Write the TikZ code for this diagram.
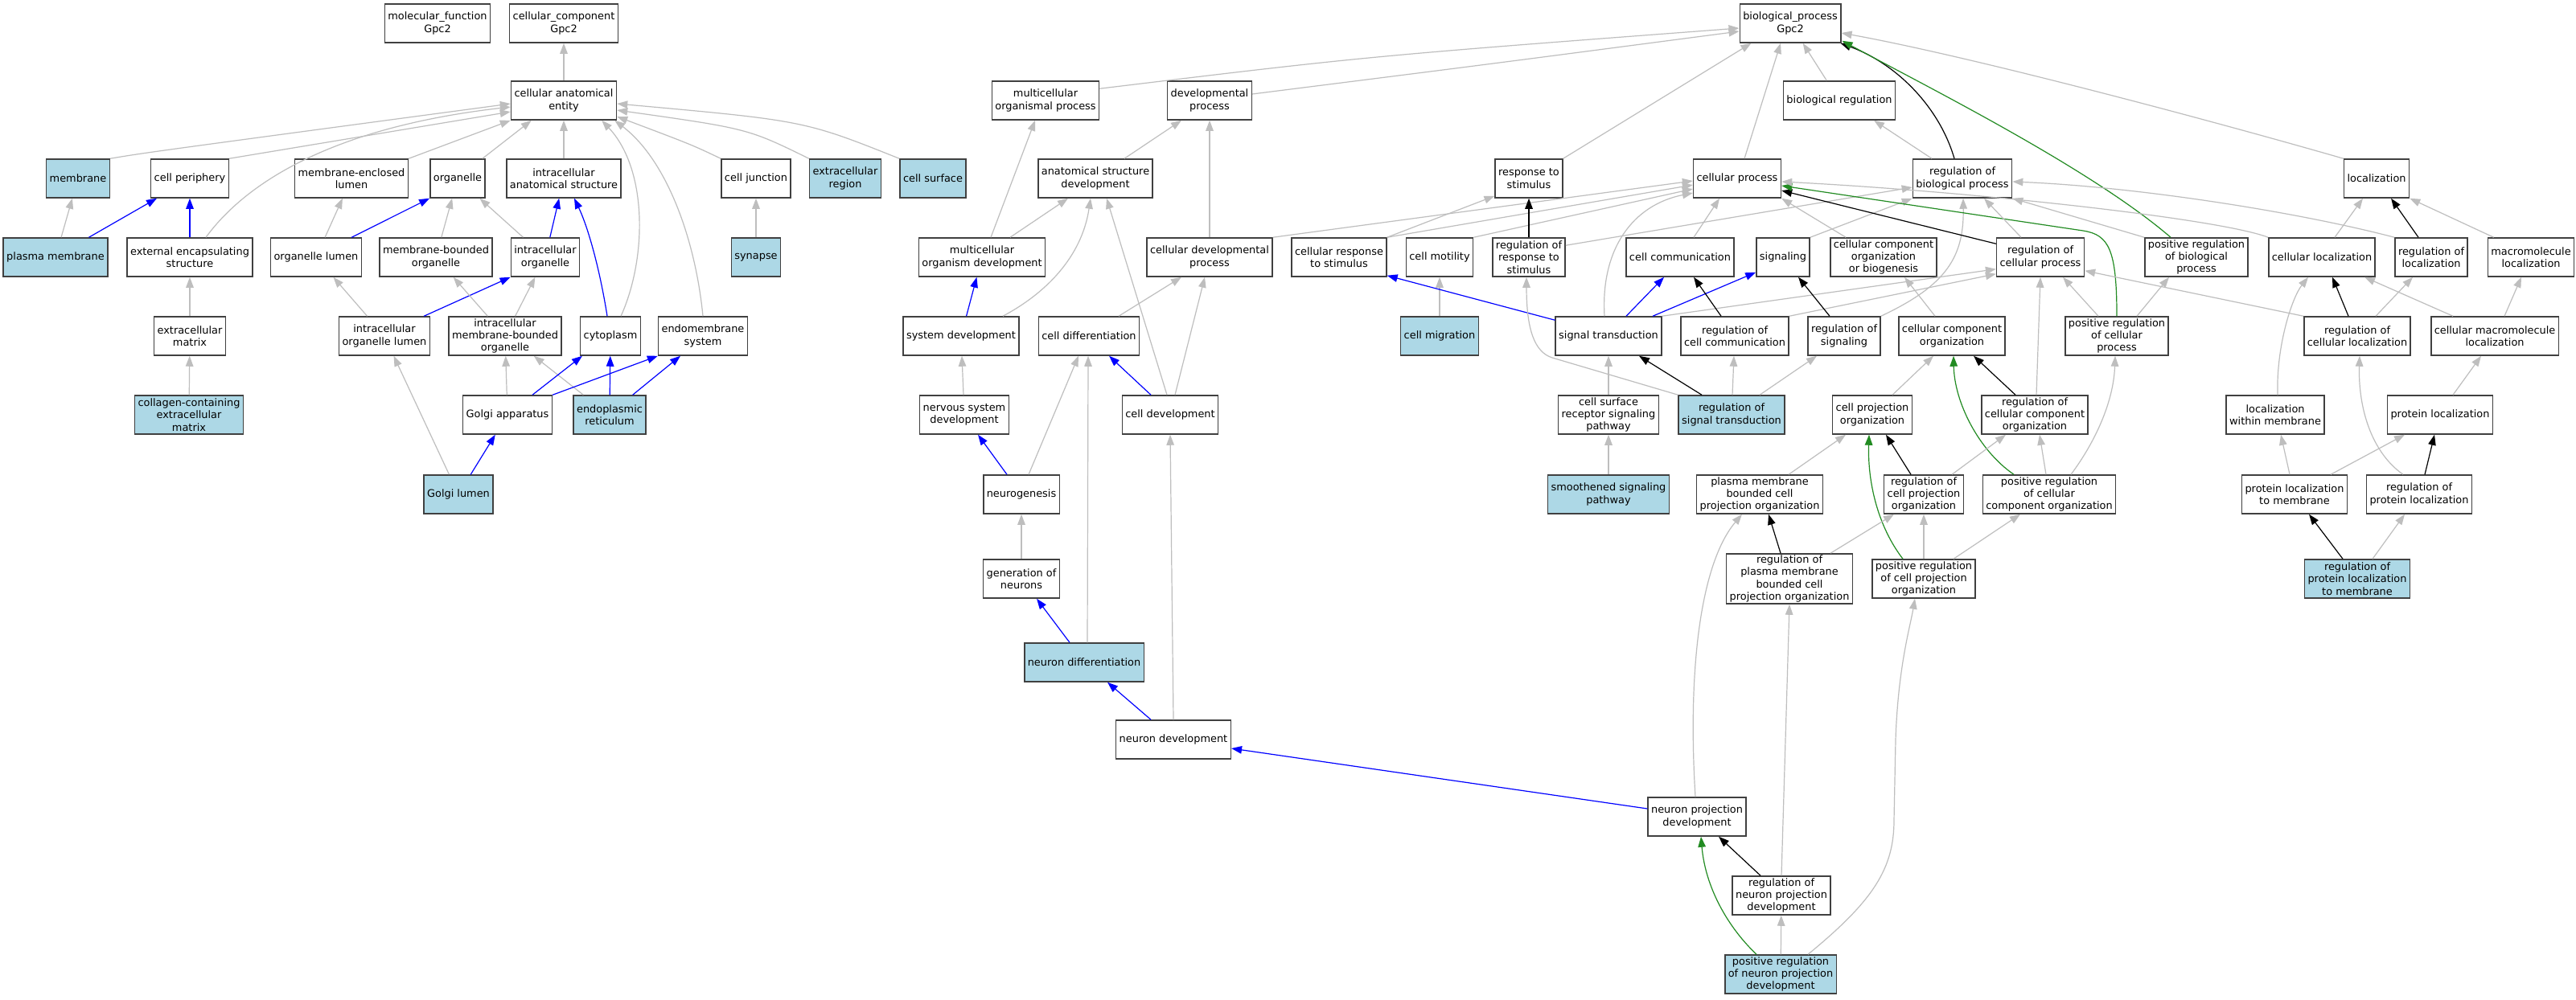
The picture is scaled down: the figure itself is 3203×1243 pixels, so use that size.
\documentclass[tikz,border=0pt]{standalone}
\usepackage{fontspec}
\setmainfont{DejaVu Sans}
\usetikzlibrary{arrows.meta}
\definecolor{lb}{HTML}{ADD8E6}
\definecolor{eg}{HTML}{BEBEBE}
\definecolor{fg}{HTML}{228B22}
\definecolor{bd}{HTML}{404040}
\tikzset{
 gobox/.style={draw=bd,line width=1.5pt,fill=white,align=center,inner xsep=4pt,inner ysep=2pt,minimum height=48pt,font=\fontsize{12.9}{15.2}\selectfont},
 hlbox/.style={gobox,fill=lb},
 edg/.style={line width=1.2pt,-{Triangle[length=13pt,width=9.5pt]}},
 gedge/.style={edg,color=eg},
 bedge/.style={edg,color=blue},
 kedge/.style={edg,color=black},
 vedge/.style={edg,color=fg}
}
\begin{document}
\begin{tikzpicture}[x=1pt,y=-1pt]
\fill[white] (0,0) rectangle (3203,1243);
\useasboundingbox (0,0) rectangle (3203,1243);
% ---------- cellular component ----------
\node[gobox] (mf) at (544,29) {molecular\_function\\Gpc2};
\node[gobox] (cc) at (701,29) {cellular\_component\\Gpc2};
\node[gobox] (cae) at (701,125) {cellular anatomical\\entity};
\node[hlbox] (membrane) at (97,222) {membrane};
\node[gobox] (cellper) at (236,222) {cell periphery};
\node[gobox] (mel) at (437,222) {membrane-enclosed\\lumen};
\node[gobox] (organelle) at (569,222) {organelle};
\node[gobox] (ias) at (701,222) {intracellular\\anatomical structure};
\node[gobox] (celljunc) at (940,222) {cell junction};
\node[hlbox] (extreg) at (1051,222) {extracellular\\region};
\node[hlbox] (cellsurf) at (1160,222) {cell surface};
\node[hlbox] (pm) at (69,320) {plasma membrane};
\node[gobox] (ees) at (236,320) {external encapsulating\\structure};
\node[gobox] (orglumen) at (393,320) {organelle lumen};
\node[gobox] (mbo) at (542,320) {membrane-bounded\\organelle};
\node[gobox] (io) at (678,320) {intracellular\\organelle};
\node[hlbox] (synapse) at (940,320) {synapse};
\node[gobox] (ecm) at (236,418) {extracellular\\matrix};
\node[gobox] (iol) at (478,418) {intracellular\\organelle lumen};
\node[gobox] (imbo) at (628,418) {intracellular\\membrane-bounded\\organelle};
\node[gobox] (cytoplasm) at (759,418) {cytoplasm};
\node[gobox] (ems) at (874,418) {endomembrane\\system};
\node[hlbox] (collagen) at (235,516) {collagen-containing\\extracellular\\matrix};
\node[gobox] (golgi) at (631,516) {Golgi apparatus};
\node[hlbox] (er) at (758,516) {endoplasmic\\reticulum};
\node[hlbox] (golgilumen) at (570,615) {Golgi lumen};
% ---------- biological process ----------
\node[gobox] (bp) at (2226,29) {biological\_process\\Gpc2};
\node[gobox] (mop) at (1300,125) {multicellular\\organismal process};
\node[gobox] (devp) at (1504,125) {developmental\\process};
\node[gobox] (bioreg) at (2287,125) {biological regulation};
\node[gobox] (asd) at (1362,222) {anatomical structure\\development};
\node[gobox] (rs) at (1901,222) {response to\\stimulus};
\node[gobox] (cp) at (2160,222) {cellular process};
\node[gobox] (rbp) at (2440,222) {regulation of\\biological process};
\node[gobox] (loc) at (2955,222) {localization};
\node[gobox] (mod) at (1221,320) {multicellular\\organism development};
\node[gobox] (cdp) at (1504,320) {cellular developmental\\process};
\node[gobox] (crs) at (1665,320) {cellular response\\to stimulus};
\node[gobox] (cmot) at (1790,320) {cell motility};
\node[gobox] (rrs) at (1901,320) {regulation of\\response to\\stimulus};
\node[gobox] (ccomm) at (2089,320) {cell communication};
\node[gobox] (signaling) at (2217,320) {signaling};
\node[gobox] (ccob) at (2342,320) {cellular component\\organization\\or biogenesis};
\node[gobox] (rcp) at (2537,320) {regulation of\\cellular process};
\node[gobox] (prbp) at (2731,320) {positive regulation\\of biological\\process};
\node[gobox] (cloc) at (2887,320) {cellular localization};
\node[gobox] (rloc) at (3023,320) {regulation of\\localization};
\node[gobox] (mloc) at (3147,320) {macromolecule\\localization};
\node[gobox] (sysdev) at (1195,418) {system development};
\node[gobox] (celldiff) at (1354,418) {cell differentiation};
\node[hlbox] (cmig) at (1790,418) {cell migration};
\node[gobox] (st) at (2000,418) {signal transduction};
\node[gobox] (rcc) at (2157,418) {regulation of\\cell communication};
\node[gobox] (rsig) at (2293,418) {regulation of\\signaling};
\node[gobox] (cco) at (2427,418) {cellular component\\organization};
\node[gobox] (prcp) at (2632,418) {positive regulation\\of cellular\\process};
\node[gobox] (rcl) at (2931,418) {regulation of\\cellular localization};
\node[gobox] (cml) at (3102,418) {cellular macromolecule\\localization};
\node[gobox] (nsd) at (1199,516) {nervous system\\development};
\node[gobox] (celldev) at (1455,516) {cell development};
\node[gobox] (csrsp) at (2000,516) {cell surface\\receptor signaling\\pathway};
\node[hlbox] (rst) at (2153,516) {regulation of\\signal transduction};
\node[gobox] (cpo) at (2328,516) {cell projection\\organization};
\node[gobox] (rcco) at (2530,516) {regulation of\\cellular component\\organization};
\node[gobox] (lwm) at (2829,516) {localization\\within membrane};
\node[gobox] (ploc) at (3034,516) {protein localization};
\node[gobox] (neurogenesis) at (1270,615) {neurogenesis};
\node[hlbox] (ssp) at (2000,615) {smoothened signaling\\pathway};
\node[gobox] (pmbcpo) at (2188,615) {plasma membrane\\bounded cell\\projection organization};
\node[gobox] (rcpo) at (2392,615) {regulation of\\cell projection\\organization};
\node[gobox] (prcco) at (2548,615) {positive regulation\\of cellular\\component organization};
\node[gobox] (plm) at (2853,615) {protein localization\\to membrane};
\node[gobox] (rpl) at (3008,615) {regulation of\\protein localization};
\node[gobox] (gon) at (1270,720) {generation of\\neurons};
\node[gobox] (rpmbcpo) at (2225,720) {regulation of\\plasma membrane\\bounded cell\\projection organization};
\node[gobox] (prcpo) at (2392,720) {positive regulation\\of cell projection\\organization};
\node[hlbox] (rplm) at (2931,720) {regulation of\\protein localization\\to membrane};
\node[hlbox] (ndiff) at (1348,824) {neuron differentiation};
\node[gobox] (ndev) at (1459,920) {neuron development};
\node[gobox] (npd) at (2110,1016) {neuron projection\\development};
\node[gobox] (rnpd) at (2215,1114) {regulation of\\neuron projection\\development};
\node[hlbox] (prnpd) at (2214,1212) {positive regulation\\of neuron projection\\development};
% ---------- CC edges ----------
\draw[gedge] (cae) -- (cc);
\draw[gedge] (membrane.north east) .. controls (180,190) .. ([yshift=-4pt]cae.west);
\draw[gedge] (cellper.north east) -- ([yshift=-14pt]cae.west);
\draw[gedge] ([xshift=20pt]ees.north) .. controls (300,235) and (400,160) .. ([yshift=-8pt]cae.west);
\draw[gedge] (mel.north east) -- (cae.south west);
\draw[gedge] ([xshift=-4pt]organelle.north east) -- ([xshift=26pt]cae.south west);
\draw[gedge] (ias) -- (cae);
\draw[gedge] ([xshift=-25pt]cytoplasm.north east) .. controls (805,320) and (805,210) .. ([xshift=-19pt]cae.south east);
\draw[gedge] (ems.north) .. controls (865,300) and (830,200) .. ([xshift=-3pt]cae.south east);
\draw[gedge] (celljunc.north west) .. controls (860,180) .. ([yshift=-20pt]cae.east);
\draw[gedge] (extreg.north west) .. controls (930,160) .. ([yshift=-12pt]cae.east);
\draw[gedge] (cellsurf.north west) .. controls (1000,150) .. ([yshift=-4pt]cae.east);
\draw[gedge] (pm) -- (membrane);
\draw[bedge] ([xshift=-24pt]pm.north east) -- ([xshift=8pt]cellper.south west);
\draw[bedge] (ees) -- (cellper);
\draw[gedge] (ecm) -- (ees);
\draw[gedge] (collagen) -- (ecm);
\draw[gedge] (orglumen) -- (mel);
\draw[bedge] ([xshift=-13pt]orglumen.north east) -- (organelle.south west);
\draw[gedge] (mbo) -- (organelle);
\draw[gedge] (io) -- (organelle);
\draw[bedge] (io) -- (ias);
\draw[bedge] ([xshift=-4pt]cytoplasm.north) .. controls (745,330) and (730,280) .. ([xshift=13pt]ias.south);
\draw[gedge] (iol) -- (orglumen);
\draw[bedge] ([xshift=-8pt]iol.north east) -- (io.south west);
\draw[gedge] (imbo) -- (mbo);
\draw[gedge] (imbo) -- (io);
\draw[gedge] (golgilumen) -- (iol);
\draw[bedge] (golgilumen) -- (golgi);
\draw[gedge] (golgi) -- (imbo);
\draw[gedge] ([xshift=13pt]er.north west) -- ([xshift=-35pt]imbo.south east);
\draw[bedge] ([xshift=31pt]golgi.north) -- ([xshift=3pt]cytoplasm.south west);
\draw[bedge] (er) -- (cytoplasm);
\draw[bedge] (golgi.north east) -- (ems.south west);
\draw[bedge] ([xshift=-17pt]er.north east) -- ([xshift=-28pt]ems.south);
\draw[gedge] (synapse) -- (celljunc);
% ---------- BP edges ----------
\draw[gedge] ([yshift=-10pt]mop.north east) .. controls (1700,70) .. ([yshift=-6pt]bp.west);
\draw[gedge] ([yshift=8pt]devp.east) .. controls (1850,80) .. ([yshift=-10pt]bp.west);
\draw[gedge] (rs.north east) -- ([xshift=15pt]bp.south west);
\draw[gedge] ([xshift=9pt]cp.north) -- ([xshift=-12pt]bp.south);
\draw[gedge] (bioreg) -- (bp);
\draw[kedge] ([xshift=-10pt]rbp.north) .. controls (2412,135) and (2360,80) .. ([xshift=-1pt]bp.south east);
\draw[vedge] ([xshift=-32pt]prbp.north) .. controls (2600,210) and (2400,110) .. ([xshift=1pt,yshift=3pt]bp.south east);
\draw[gedge] (loc.north west) .. controls (2750,150) and (2450,70) .. ([yshift=-12pt]bp.east);
\draw[gedge] ([xshift=11pt]mod.north) -- ([xshift=-13pt]mop.south);
\draw[gedge] ([xshift=36pt]asd.north) -- ([xshift=-35pt]devp.south);
\draw[gedge] (cdp) -- (devp);
\draw[gedge] ([xshift=35pt]mod.north) -- ([xshift=-34pt]asd.south);
\draw[gedge] ([xshift=52pt]sysdev.north) .. controls (1300,365) and (1345,320) .. ([xshift=-6pt]asd.south);
\draw[gedge] ([xshift=-4pt]celldev.north) -- ([xshift=14pt]asd.south);
\draw[bedge] (sysdev) -- (mod);
\draw[gedge] (nsd) -- (sysdev);
\draw[bedge] ([xshift=-18pt]neurogenesis.north) -- ([xshift=17pt]nsd.south);
\draw[gedge] ([xshift=9pt]neurogenesis.north) -- ([xshift=-13pt]celldiff.south);
\draw[gedge] ([xshift=4pt]ndiff.north) -- ([xshift=-1pt]celldiff.south);
\draw[bedge] ([xshift=-24pt]celldev.north) -- ([xshift=25pt]celldiff.south);
\draw[gedge] ([xshift=37pt]celldiff.north) -- ([xshift=-35pt]cdp.south);
\draw[gedge] ([xshift=6pt]celldev.north) -- ([xshift=-6pt]cdp.south);
\draw[gedge] (ndev.north) -- (celldev.south);
\draw[gedge] (gon) -- (neurogenesis);
\draw[bedge] ([xshift=-18pt]ndiff.north) -- ([xshift=19pt]gon.south);
\draw[bedge] ([xshift=-28pt]ndev.north) -- ([xshift=29pt]ndiff.south);
\draw[bedge] ([yshift=10pt]npd.west) -- ([yshift=-11pt]ndev.east);
\draw[gedge] (cdp.north east) -- ([yshift=-3pt]cp.west);
\draw[gedge] (crs.north east) -- ([yshift=-8pt]cp.west);
\draw[gedge] (crs.north east) -- ([yshift=3pt]rs.south west);
\draw[gedge] (cmot.north east) -- ([yshift=-13pt]cp.west);
\draw[gedge] (cmig) -- (cmot);
\draw[kedge] (rrs) -- (rs);
\draw[bedge] ([yshift=-5pt]st.north west) -- ([yshift=2pt]crs.south east);
\draw[gedge] ([xshift=-5pt]st.north) .. controls (1990,310) and (2030,255) .. ([yshift=-18pt]cp.west);
\draw[bedge] ([xshift=22pt]st.north) -- ([xshift=-20pt]ccomm.south);
\draw[bedge] ([xshift=55pt]st.north) -- ([yshift=6pt]signaling.south west);
\draw[gedge] (st.north east) -- ([yshift=10pt]rcp.south west);
\draw[gedge] (rcc.north east) -- ([yshift=4pt]rcp.south west);
\draw[kedge] ([xshift=-17pt]rcc.north) -- ([xshift=17pt]ccomm.south);
\draw[gedge] ([xshift=17pt]ccomm.north) -- ([xshift=-22pt]cp.south);
\draw[kedge] ([xshift=-18pt]rsig.north) -- ([xshift=19pt]signaling.south);
\draw[gedge] (signaling.north east) -- (rbp.south west);
\draw[gedge] (rsig.north east) .. controls (2420,355) and (2442,320) .. ([xshift=1pt]rbp.south);
\draw[gedge] ([yshift=-10pt]rrs.north east) -- ([yshift=-11pt]rbp.west);
\draw[kedge] ([yshift=-8pt]rcp.north west) -- ([yshift=-15pt]cp.east);
\draw[vedge] (prcp.north) .. controls (2632,310) and (2622,292) .. (2590,287) -- ([yshift=-9pt]cp.east);
\draw[gedge] (cloc.north west) .. controls (2760,272) and (2450,238) .. ([yshift=-4pt]cp.east);
\draw[gedge] ([xshift=20pt]ccob.north west) -- (cp.south east);
\draw[gedge] ([xshift=-21pt]cco.north) -- ([xshift=26pt]ccob.south);
\draw[gedge] ([xshift=-24pt]rcp.north) -- ([xshift=27pt]rbp.south);
\draw[gedge] (prbp.north west) -- (rbp.south east);
\draw[gedge] (rloc.north west) .. controls (2850,262) and (2650,232) .. ([yshift=-4pt]rbp.east);
\draw[gedge] (rcl.north west) -- ([yshift=8pt]rcp.south east);
\draw[gedge] ([xshift=2pt]rcco.north) -- (rcp.south);
\draw[gedge] ([xshift=-23pt]prcp.north) -- ([xshift=28pt]rcp.south);
\draw[gedge] ([xshift=25pt]prcp.north) -- ([xshift=-34pt]prbp.south);
\draw[kedge] ([xshift=-24pt]rcco.north) -- ([xshift=27pt]cco.south);
\draw[gedge] ([xshift=25pt]cpo.north) -- ([xshift=-23pt]cco.south);
\draw[vedge] ([xshift=-44pt]prcco.north) .. controls (2460,560) and (2430,500) .. ([xshift=2pt]cco.south);
\draw[gedge] (rst) -- (rcc);
\draw[gedge] ([xshift=35pt]rst.north) -- ([xshift=-34pt]rsig.south);
\draw[kedge] ([xshift=-37pt]rst.north) -- ([xshift=38pt]st.south);
\draw[gedge] (rst.north west) -- (1930,445) .. controls (1908,438) and (1898,410) .. ([xshift=-3pt]rrs.south);
\draw[gedge] (csrsp) -- (st);
\draw[gedge] (ssp) -- (csrsp);
\draw[gedge] ([xshift=36pt]pmbcpo.north) -- ([xshift=-33pt]cpo.south);
\draw[kedge] ([xshift=-16pt]rcpo.north) -- ([xshift=17pt]cpo.south);
\draw[vedge] ([xshift=-26pt]prcpo.north) .. controls (2335,655) and (2322,600) .. ([xshift=-4pt]cpo.south);
\draw[gedge] ([xshift=35pt]rcpo.north) -- ([xshift=-36pt]rcco.south);
\draw[gedge] ([xshift=-4pt]prcco.north) -- ([xshift=6pt]rcco.south);
\draw[gedge] ([xshift=27pt]prcco.north) .. controls (2605,550) and (2628,500) .. ([xshift=-2pt]prcp.south);
\draw[kedge] ([xshift=-11pt]rpmbcpo.north) -- ([xshift=11pt]pmbcpo.south);
\draw[gedge] ([xshift=51pt]rpmbcpo.north) -- ([xshift=-37pt]rcpo.south);
\draw[gedge] (prcpo) -- (rcpo);
\draw[gedge] ([xshift=37pt]prcpo.north) -- ([xshift=-36pt]prcco.south);
\draw[gedge] ([xshift=-2pt]npd.north) .. controls (2098,830) and (2115,700) .. ([xshift=-22pt]pmbcpo.south);
\draw[gedge] (rnpd.north) -- (rpmbcpo.south);
\draw[kedge] ([xshift=-26pt]rnpd.north) -- ([xshift=27pt]npd.south);
\draw[vedge] ([xshift=-30pt]prnpd.north) .. controls (2145,1150) and (2120,1100) .. ([xshift=5pt]npd.south);
\draw[gedge] (prnpd) -- (rnpd);
\draw[gedge] ([xshift=34pt]prnpd.north) .. controls (2330,1120) and (2355,1080) .. (2355,1020) -- (2357,920) .. controls (2360,830) and (2375,780) .. ([xshift=-11pt]prcpo.south);
\draw[gedge] ([xshift=-38pt]rbp.north) -- ([xshift=43pt]bioreg.south);
% ---------- localization edges ----------
\draw[gedge] ([xshift=16pt]cloc.north) -- ([xshift=-17pt]loc.south);
\draw[kedge] ([xshift=-16pt]rloc.north) -- ([xshift=18pt]loc.south);
\draw[gedge] ([xshift=8pt]mloc.north west) -- (loc.south east);
\draw[kedge] ([xshift=-11pt]rcl.north) -- ([xshift=13pt]cloc.south);
\draw[gedge] ([xshift=23pt]rcl.north) -- ([xshift=-23pt]rloc.south);
\draw[gedge] ([xshift=-52pt]cml.north) -- ([xshift=53pt]cloc.south);
\draw[gedge] ([xshift=12pt]cml.north) -- ([xshift=-12pt]mloc.south);
\draw[gedge] ([xshift=3pt]lwm.north) .. controls (2830,430) and (2850,370) .. ([xshift=-17pt]cloc.south);
\draw[gedge] ([xshift=16pt]ploc.north) -- ([xshift=-17pt]cml.south);
\draw[gedge] ([xshift=-20pt]rpl.north) .. controls (2945,560) and (2932,500) .. ([xshift=3pt]rcl.south);
\draw[kedge] ([xshift=7pt]rpl.north) -- ([xshift=-7pt]ploc.south);
\draw[gedge] ([xshift=-6pt]plm.north) -- ([xshift=7pt]lwm.south);
\draw[gedge] ([xshift=45pt]plm.north) -- ([xshift=-44pt]ploc.south);
\draw[kedge] ([xshift=-18pt]rplm.north) -- ([xshift=18pt]plm.south);
\draw[gedge] ([xshift=19pt]rplm.north) -- ([xshift=-18pt]rpl.south);
\end{tikzpicture}
\end{document}
